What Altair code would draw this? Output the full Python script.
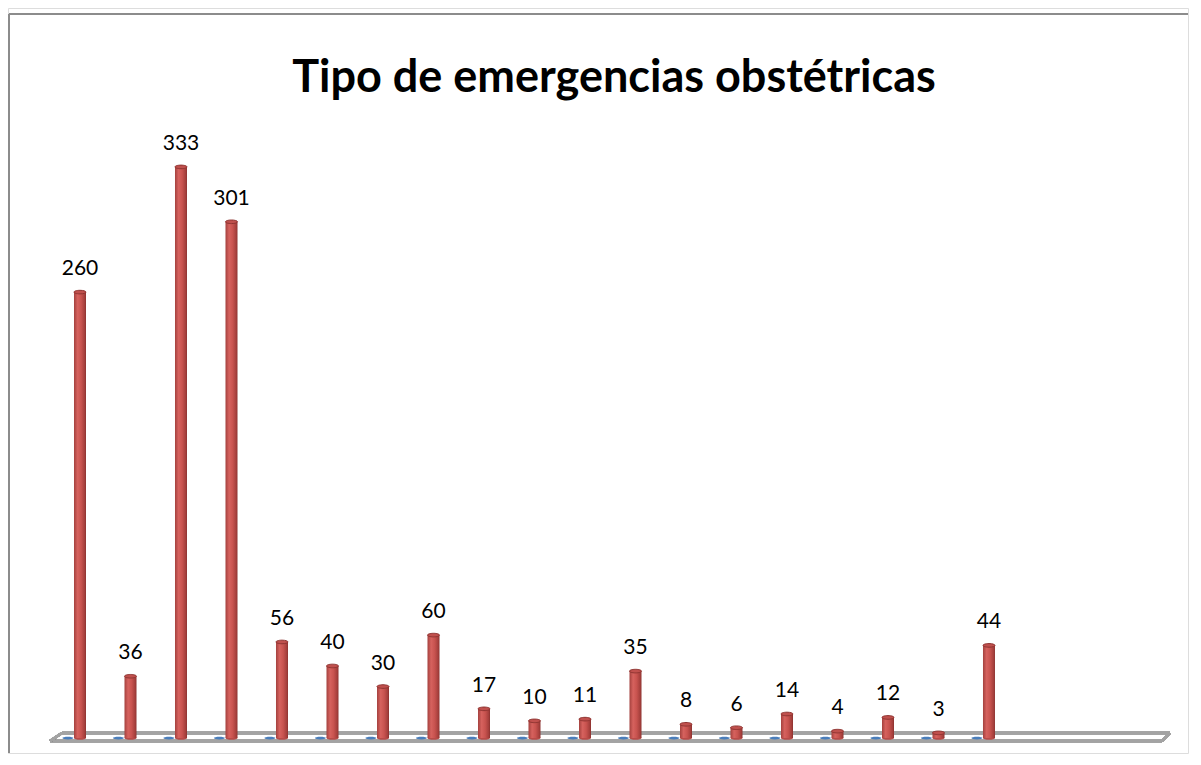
import altair as alt
import pandas as pd

# Data
categories = list(range(19))
values = [260, 36, 333, 301, 56, 40, 30, 60, 17, 10, 11, 35, 8, 6, 14, 4, 12, 3, 44]
# bar heights as drawn in the reference (a few bars are drawn taller than their label)
bar_heights = [260, 36, 333, 301, 56, 42, 30, 60, 17, 10, 11, 39, 8, 6, 14, 4, 12, 3, 54]
zero_series = [0] * 19

W, H = 1180, 745

df = pd.DataFrame({"idx": categories, "val": values, "h": bar_heights, "zero": zero_series})

xscale = alt.Scale(domain=[-1.4257, 21.941], nice=False, zero=False, padding=0)
yscale = alt.Scale(domain=[-8.746, 425.66], nice=False, zero=False, padding=0)

X = alt.X("idx:Q", scale=xscale, axis=None)
base = alt.Chart(df)

red_grad = alt.Gradient(
    gradient="linear",
    x1=0, x2=1, y1=0, y2=0,
    stops=[
        alt.GradientStop(color="#A4413E", offset=0),
        alt.GradientStop(color="#D6625E", offset=0.3),
        alt.GradientStop(color="#C8534F", offset=0.6),
        alt.GradientStop(color="#A33E3B", offset=0.9),
        alt.GradientStop(color="#8A302E", offset=1),
    ],
)

ellipse = "M -1 0 A 1 0.3 0 1 1 1 0 A 1 0.3 0 1 1 -1 0 Z"
flat_ellipse = "M -1 0 A 1 0.25 0 1 1 1 0 A 1 0.25 0 1 1 -1 0 Z"

gray = "#A3A3A3"
# floor outline (decorative 3D floor), pixel positions
floor_edges = [
    (54, 725, 1162, 725),
    (1162, 725, 1154, 733),
    (42, 733, 1154, 733),
    (54, 725, 42, 733),
]
floor_layers = [
    alt.Chart(df).mark_rule(color=gray, strokeWidth=2.5).encode(
        x=alt.value(a), y=alt.value(b), x2=alt.value(c), y2=alt.value(d)
    )
    for (a, b, c, d) in floor_edges
]

border = [
    alt.Chart(df).mark_rule(color="#8C8C8C", strokeWidth=2).encode(
        x=alt.value(1), x2=alt.value(1), y=alt.value(6), y2=alt.value(H)
    ),
    alt.Chart(df).mark_rule(color="#8C8C8C", strokeWidth=2).encode(
        x=alt.value(1), x2=alt.value(W), y=alt.value(6), y2=alt.value(6)
    ),
]

blue = base.transform_calculate(xb="datum.idx - 0.24").mark_point(
    shape=flat_ellipse, size=121, filled=True, color="#4A7EBB", opacity=1
).encode(
    x=alt.X("xb:Q", scale=xscale, axis=None),
    y=alt.Y("zero:Q", scale=yscale, axis=None),
)

bottom_cap = base.mark_point(
    shape=ellipse, size=144, filled=True, color="#B84B48", opacity=1
).encode(x=X, y=alt.Y("zero:Q", scale=yscale, axis=None))

bars = base.mark_bar(size=12, color=red_grad).encode(
    x=X,
    y=alt.Y("h:Q", scale=yscale, axis=None),
    y2=alt.datum(0),
)

top_cap = base.mark_point(
    shape=ellipse, size=144, filled=True, color="#C0504D", opacity=1,
    stroke="#8E3431", strokeWidth=1,
).encode(x=X, y=alt.Y("h:Q", scale=yscale, axis=None))

labels = base.mark_text(
    font="Lato", fontSize=21, color="#000000", baseline="alphabetic", dy=-17
).encode(
    x=X,
    y=alt.Y("h:Q", scale=yscale, axis=None),
    text=alt.Text("val:Q"),
)

title = alt.Chart(df).transform_filter("datum.idx == 0").mark_text(
    text="Tipo de emergencias obstétricas",
    font="Lato", fontSize=45, fontWeight="bold", color="#000000",
    baseline="alphabetic", align="center",
).encode(x=alt.value(606), y=alt.value(84))

chart = alt.layer(
    *border, *floor_layers, blue, bottom_cap, bars, top_cap, labels, title
).properties(
    width=W, height=H, padding=0
).configure_view(stroke=None).configure(background="#FFFFFF")

chart.save("out.html", embed_options={"renderer": "svg", "actions": False})
